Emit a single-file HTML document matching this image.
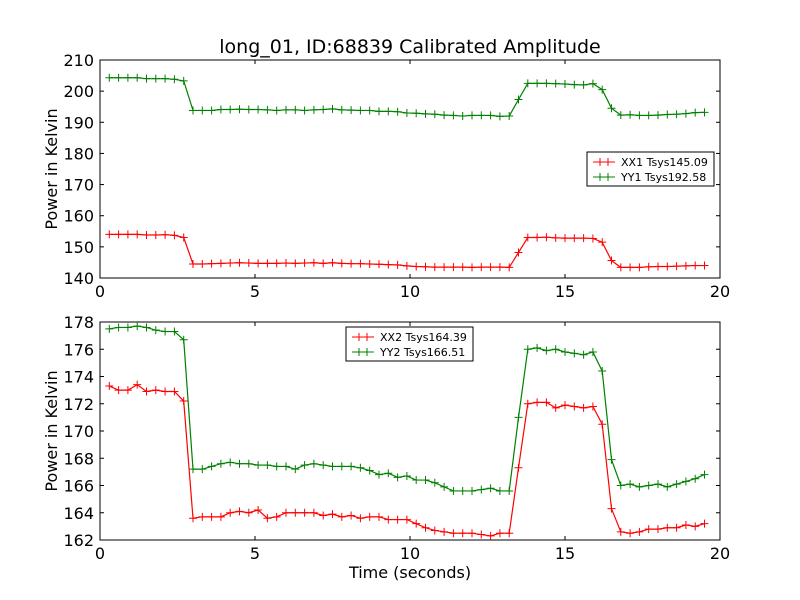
<!DOCTYPE html>
<html><head><meta charset="utf-8"><style>body{margin:0;background:#fff}svg{display:block;font-family:"DejaVu Sans","Liberation Sans",sans-serif}</style></head>
<body>
<svg id="chart" width="800" height="600"></svg>
<script>
const times = Array.from({length:65},(_, i)=>+(0.3+0.3*i).toFixed(2));
const xx1 = [154.0,154.0,154.0,154.0,153.8,153.8,153.9,153.7,153.0,
144.5,144.5,144.6,144.7,144.8,144.9,144.8,144.7,144.7,144.7,144.8,144.7,144.8,144.9,144.7,144.9,144.7,144.6,144.6,144.5,144.4,144.3,144.2,143.9,143.7,143.6,143.5,143.5,143.5,143.5,143.4,143.5,143.5,143.5,143.4,
148.2,153.0,153.0,153.1,152.9,152.8,152.8,152.8,152.7,151.5,145.6,143.4,
143.4,143.4,143.6,143.7,143.7,143.8,143.9,144.0,144.0];
const yy1 = [204.3,204.3,204.3,204.3,204.0,204.0,204.0,203.8,203.3,
193.8,193.8,193.8,194.1,194.1,194.2,194.1,194.1,194.0,193.8,194.0,194.0,193.8,194.0,194.1,194.3,194.0,193.9,193.8,193.8,193.5,193.5,193.4,193.0,192.9,192.7,192.6,192.3,192.2,192.0,192.2,192.2,192.2,191.9,192.0,
197.3,202.5,202.5,202.5,202.4,202.3,202.1,202.0,202.4,200.5,194.5,192.3,
192.4,192.2,192.2,192.3,192.5,192.6,192.8,193.1,193.2];
const xx2 = [173.3,173.0,173.0,173.4,172.9,173.0,172.9,172.9,172.2,
163.6,163.7,163.7,163.7,164.0,164.1,164.0,164.2,163.6,163.7,164.0,164.0,164.0,164.0,163.8,163.9,163.7,163.8,163.6,163.7,163.7,163.5,163.5,163.5,163.2,
162.9,162.7,162.6,162.5,162.5,162.5,162.4,162.3,162.5,162.5,
167.3,172.0,172.1,172.1,171.7,171.9,171.8,171.7,171.8,170.5,164.3,162.6,
162.5,162.6,162.8,162.8,162.9,162.9,163.1,163.0,163.2];
const yy2 = [177.5,177.6,177.6,177.7,177.6,177.4,177.3,177.3,176.7,
167.2,167.2,167.4,167.6,167.7,167.6,167.6,167.5,167.5,167.4,167.4,167.2,167.5,167.6,167.5,167.4,167.4,167.4,167.3,167.1,166.8,166.9,166.6,166.7,166.4,166.4,166.2,165.9,165.6,165.6,165.6,165.7,165.8,165.6,165.6,
171.0,176.0,176.1,175.9,176.0,175.8,175.7,175.6,175.8,174.4,167.9,166.0,
166.1,165.9,166.0,166.1,165.9,166.1,166.3,166.5,166.8];
const xTicks = [0,5,10,15,20];
const yTicksTop = [140,150,160,170,180,190,200,210];
const yTicksBot = [162,164,166,168,170,172,174,176,178];
const legendTop = ["XX1 Tsys145.09","YY1 Tsys192.58"];
const legendBot = ["XX2 Tsys164.39","YY2 Tsys166.51"];

const NS="http://www.w3.org/2000/svg";
const svg=document.getElementById('chart');
function mk(tag,attrs,parent){const e=document.createElementNS(NS,tag);for(const k in attrs)e.setAttribute(k,attrs[k]);(parent||svg).appendChild(e);return e;}
const X0=100,X1=720;
const sx=t=>X0+(t-0)/(20-0)*(X1-X0);

function panel(name,top,bot,ymin,ymax,yt,series,legend,lx,ly){
  const g=mk('g',{});
  
  
  const sy=v=>bot-(v-ymin)/(ymax-ymin)*(bot-top);
  mk('rect',{x:X0,y:top,width:X1-X0,height:bot-top,fill:'#fff',stroke:'#000','stroke-width':1},g);
  xTicks.forEach(t=>{const x=sx(t);
    mk('line',{x1:x,x2:x,y1:bot,y2:bot-4,stroke:'#000'},g);
    mk('line',{x1:x,x2:x,y1:top,y2:top+4,stroke:'#000'},g);
    const tx=mk('text',{x:x,y:bot+19,'font-size':16,'text-anchor':'middle'},g);tx.textContent=t;
    
    
  });
  yt.forEach(v=>{const y=sy(v);
    mk('line',{x1:X0,x2:X0+4,y1:y,y2:y,stroke:'#000'},g);
    mk('line',{x1:X1,x2:X1-4,y1:y,y2:y,stroke:'#000'},g);
    const tx=mk('text',{x:X0-6,y:y+6,'font-size':16,'text-anchor':'end'},g);tx.textContent=v;
    
    
  });
  series.forEach(([vals,col,sname])=>{
    const pl=mk('polyline',{points:vals.map((v,i)=>sx(times[i])+','+sy(v)).join(' '),fill:'none',stroke:col,'stroke-width':1.2},g);
    
    
    let d='';vals.forEach((v,i)=>{const x=sx(times[i]),y=sy(v);d+=`M${x-4},${y}h8M${x},${y-4}v8`;});
    const m=mk('path',{d:d,stroke:col,'stroke-width':1,fill:'none'},g);
    
    
  });
  const lg=mk('g',{},g);
  
  
  mk('rect',{x:lx,y:ly,width:127,height:34,fill:'#fff',stroke:'#000'},lg);
  series.forEach(([v,col],k)=>{const y=ly+10+k*15;
    mk('line',{x1:lx+6,x2:lx+28,y1:y,y2:y,stroke:col},lg);
    mk('path',{d:`M${lx+13},${y-4}v8M${lx+21},${y-4}v8`,stroke:col},lg);
    const t=mk('text',{x:lx+34,y:y+4,'font-size':11},lg);t.textContent=legend[k];
    
    
  });
  const yl=mk('text',{x:0,y:0,'font-size':16,'text-anchor':'middle',transform:`translate(57,${(top+bot)/2}) rotate(-90)`},g);
  yl.textContent='Power in Kelvin';
  
  
}
const title=mk('text',{x:410,y:53,'font-size':19,'text-anchor':'middle'});
title.textContent='long_01, ID:68839 Calibrated Amplitude';


panel('top-panel',60,278,140,210,yTicksTop,[[xx1,'#ff0000','xx1'],[yy1,'#008000','yy1']],legendTop,587,152);
panel('bottom-panel',322,540,162,178,yTicksBot,[[xx2,'#ff0000','xx2'],[yy2,'#008000','yy2']],legendBot,346,327);
const xl=mk('text',{x:410,y:578,'font-size':16,'text-anchor':'middle'});
xl.textContent='Time (seconds)';


</script>
</body></html>
